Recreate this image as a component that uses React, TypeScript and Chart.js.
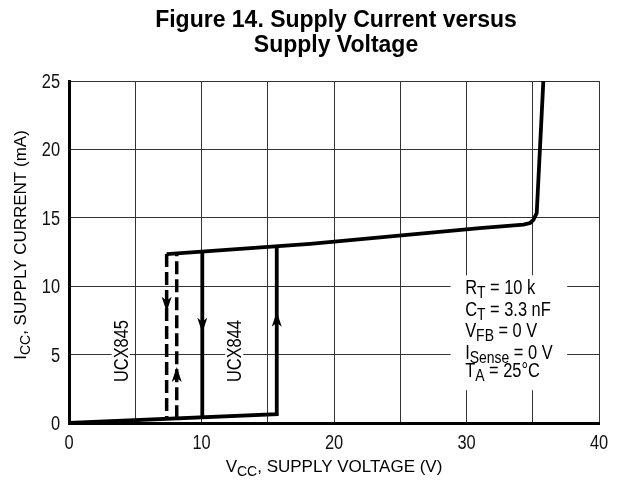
import React, { useEffect, useRef } from "react";
import { Chart, registerables } from "chart.js";

Chart.register(...registerables);

// ---------- data ----------
const xMin = 0;
const xMax = 40;
const yMin = 0;
const yMax = 25;
const xStep = 5;
const yStep = 5;
const xLabelEvery = 10;

const titleLines = ["Figure 14. Supply Current versus", "Supply Voltage"];

// low-current (off) branch of UCX844 and its turn-on edge
const offBranch = [
  { x: 0, y: 0 },
  { x: 15.68, y: 0.65 },
  { x: 15.68, y: 12.95 },
];
// operating branch
const onBranch = [
  { x: 7.37, y: 12.35 },
  { x: 18.2, y: 13.1 },
  { x: 31.0, y: 14.25 },
  { x: 34.3, y: 14.5 },
  { x: 34.8, y: 14.62 },
  { x: 35.05, y: 14.85 },
  { x: 35.3, y: 15.35 },
  { x: 35.8, y: 25 },
];
// UCX844 turn-off edge
const ucx844Off = [
  { x: 10.06, y: 12.55 },
  { x: 10.06, y: 0.42 },
];
// UCX845 turn-off / turn-on edges (dashed)
const ucx845Off = [
  { x: 7.37, y: 12.35 },
  { x: 7.37, y: 0.3 },
];
const ucx845On = [
  { x: 8.13, y: 0.34 },
  { x: 8.13, y: 12.4 },
];
// arrow heads: tip position, direction (+1 up, -1 down)
const arrowX = [7.37, 10.06, 15.68, 8.13];
const arrowY = [8.14, 6.6, 8.14, 4.1];
const arrowDir = [-1, -1, 1, 1];

// device labels
const deviceLabels = ["UCX845", "UCX844"];
const deviceLabelX = [3.9, 12.47];
const deviceLabelY = [5.26, 5.26];

// conditions block
const conditions: { t: string; sub?: boolean }[][] = [
  [{ t: "R" }, { t: "T", sub: true }, { t: " = 10 k" }],
  [{ t: "C" }, { t: "T", sub: true }, { t: " = 3.3 nF" }],
  [{ t: "V" }, { t: "FB", sub: true }, { t: " = 0 V" }],
  [{ t: "I" }, { t: "Sense", sub: true }, { t: " = 0 V" }],
  [{ t: "T" }, { t: "A", sub: true }, { t: " = 25°C" }],
];

const yTitle = [{ t: "I" }, { t: "CC", sub: true }, { t: ", SUPPLY CURRENT (mA)" }];
const xTitle = [{ t: "V" }, { t: "CC", sub: true }, { t: ", SUPPLY VOLTAGE (V)" }];

// ---------- style ----------
const SANS = "'Liberation Sans', Arial, sans-serif";
const NARROW_SCALE = 0.82;

type Part = { t: string; sub?: boolean };

function measureRich(ctx: CanvasRenderingContext2D, parts: Part[], size: number, subSize: number) {
  let w = 0;
  for (const p of parts) {
    ctx.font = `${p.sub ? subSize : size}px ${SANS}`;
    w += ctx.measureText(p.t).width;
  }
  return w;
}

// draws text starting at local origin (already translated), with horizontal compression hs
function drawRich(
  ctx: CanvasRenderingContext2D,
  x: number,
  y: number,
  parts: Part[],
  size: number,
  subSize: number,
  subDrop: number,
  hs: number
) {
  ctx.save();
  ctx.translate(x, y);
  ctx.scale(hs, 1);
  let cx = 0;
  for (const p of parts) {
    ctx.font = `${p.sub ? subSize : size}px ${SANS}`;
    ctx.fillText(p.t, cx, p.sub ? subDrop : 0);
    cx += ctx.measureText(p.t).width;
  }
  ctx.restore();
}

function narrowText(ctx: CanvasRenderingContext2D, text: string, x: number, y: number, size: number, align: "left" | "center" | "right") {
  ctx.save();
  ctx.font = `${size}px ${SANS}`;
  const w = ctx.measureText(text).width * NARROW_SCALE;
  let left = x;
  if (align === "center") left = x - w / 2;
  if (align === "right") left = x - w;
  ctx.translate(left, y);
  ctx.scale(NARROW_SCALE, 1);
  ctx.textAlign = "left";
  ctx.fillText(text, 0, 0);
  ctx.restore();
}

const decorPlugin = {
  id: "decor",
  beforeDatasetsDraw(chart: any) {
    const ctx: CanvasRenderingContext2D = chart.ctx;
    const xs = chart.scales.x;
    const ys = chart.scales.y;
    ctx.save();
    ctx.fillStyle = "#fff";
    // white field behind the conditions block
    const bx0 = xs.getPixelForValue(28.8);
    const bx1 = xs.getPixelForValue(37.6);
    const by0 = ys.getPixelForValue(10.8);
    const by1 = ys.getPixelForValue(2.4);
    ctx.fillRect(bx0, by0, bx1 - bx0, by1 - by0);
    // white field behind device labels
    ctx.font = `20px ${SANS}`;
    deviceLabels.forEach((lab, i) => {
      const w = ctx.measureText(lab).width * NARROW_SCALE;
      const cx = xs.getPixelForValue(deviceLabelX[i]);
      const cy = ys.getPixelForValue(deviceLabelY[i]);
      ctx.fillRect(cx - 9, cy - w / 2 - 2, 18, w + 4);
    });
    ctx.restore();
  },
  afterDatasetsDraw(chart: any) {
    const ctx: CanvasRenderingContext2D = chart.ctx;
    const xs = chart.scales.x;
    const ys = chart.scales.y;
    const area = chart.chartArea;
    ctx.save();
    ctx.fillStyle = "#000";
    ctx.textBaseline = "alphabetic";

    // tick labels (from the library's scale ticks)
    ctx.fillStyle = "#111";
    xs.ticks.forEach((t: any) => {
      if (Number(t.value) % xLabelEvery !== 0) return;
      narrowText(ctx, String(t.value), xs.getPixelForValue(t.value), area.bottom + 26, 20, "center");
    });
    ys.ticks.forEach((t: any) => {
      narrowText(ctx, String(t.value), area.left - 9, ys.getPixelForValue(t.value) + 7, 20, "right");
    });
    ctx.fillStyle = "#000";

    // arrows
    arrowX.forEach((ax, i) => {
      const px = xs.getPixelForValue(ax);
      const py = ys.getPixelForValue(arrowY[i]);
      const d = arrowDir[i]; // +1 up: tip at top
      const back = py + d * 15;
      const notch = py + d * 11;
      ctx.beginPath();
      ctx.moveTo(px, py);
      ctx.lineTo(px - 5, back);
      ctx.lineTo(px, notch);
      ctx.lineTo(px + 5, back);
      ctx.closePath();
      ctx.fill();
    });

    // device labels (rotated)
    ctx.font = `20px ${SANS}`;
    deviceLabels.forEach((lab, i) => {
      const cx = xs.getPixelForValue(deviceLabelX[i]);
      const cy = ys.getPixelForValue(deviceLabelY[i]);
      ctx.save();
      ctx.translate(cx, cy);
      ctx.rotate(-Math.PI / 2);
      narrowText(ctx, lab, 0, 7, 20, "center");
      ctx.restore();
    });

    // conditions block
    const tx = xs.getPixelForValue(29.9);
    const baseTop = ys.getPixelForValue(10.8) + 19;
    const gaps = [0, 21.7, 43, 65, 82.5];
    conditions.forEach((line, i) => {
      drawRich(ctx, tx, baseTop + gaps[i], line, 20, 17, 4, NARROW_SCALE);
    });

    // title
    const cxArea = (area.left + area.right) / 2;
    ctx.textAlign = "center";
    ctx.font = `bold 23px ${SANS}`;
    ctx.fillText(titleLines[0], cxArea + 2, 27);
    ctx.fillText(titleLines[1], cxArea + 2, 52);
    ctx.textAlign = "left";

    // x axis title
    const wX = measureRich(ctx, xTitle, 17, 14);
    drawRich(ctx, cxArea - wX / 2, 472, xTitle, 17, 14, 4, 1);

    // y axis title (rotated)
    const wY = measureRich(ctx, yTitle, 17, 14);
    ctx.save();
    ctx.translate(26, (area.top + area.bottom) / 2 - 7);
    ctx.rotate(-Math.PI / 2);
    drawRich(ctx, -wY / 2, 0, yTitle, 17, 14, 4, 1);
    ctx.restore();

    ctx.restore();
  },
};

function lineDs(data: { x: number; y: number }[], dashed = false) {
  return {
    data,
    borderColor: "#000",
    borderWidth: dashed ? 3.5 : 3.8,
    borderDash: dashed ? [13, 5] : [],
    borderCapStyle: "butt" as const,
    borderJoinStyle: "miter" as const,
    pointRadius: 0,
    fill: false,
    tension: 0,
    showLine: true,
  };
}

export default function App() {
  const ref = useRef<HTMLCanvasElement>(null);
  useEffect(() => {
    const chart = new Chart(ref.current!, {
      type: "scatter",
      data: {
        datasets: [
          lineDs(offBranch),
          lineDs(onBranch),
          lineDs(ucx844Off),
          lineDs(ucx845Off, true),
          lineDs(ucx845On, true),
        ] as any,
      },
      options: {
        animation: false,
        responsive: true,
        maintainAspectRatio: false,
        layout: { padding: { top: 81, right: 22, left: 0, bottom: 0 } },
        plugins: {
          legend: { display: false },
          tooltip: { enabled: false },
          title: { display: false },
        },
        scales: {
          x: {
            type: "linear",
            min: xMin,
            max: xMax,
            afterFit: (s: any) => {
              s.height = 63;
            },
            ticks: {
              stepSize: xStep,
              autoSkip: false,
              maxRotation: 0,
              display: false,
            },
            grid: { color: "#333", lineWidth: 1, drawTicks: false },
            border: { display: true, color: "#000", width: 3 },
          },
          y: {
            type: "linear",
            min: yMin,
            max: yMax,
            afterFit: (s: any) => {
              s.width = 69;
            },
            ticks: {
              stepSize: yStep,
              display: false,
            },
            grid: { color: "#333", lineWidth: 1, drawTicks: false },
            border: { display: true, color: "#000", width: 3 },
          },
        },
      },
      plugins: [decorPlugin],
    });
    return () => chart.destroy();
  }, []);
  return (
    <div style={{ position: "fixed", left: 0, top: 0, width: 621, height: 486, background: "#fff" }}>
      <canvas ref={ref} />
    </div>
  );
}
